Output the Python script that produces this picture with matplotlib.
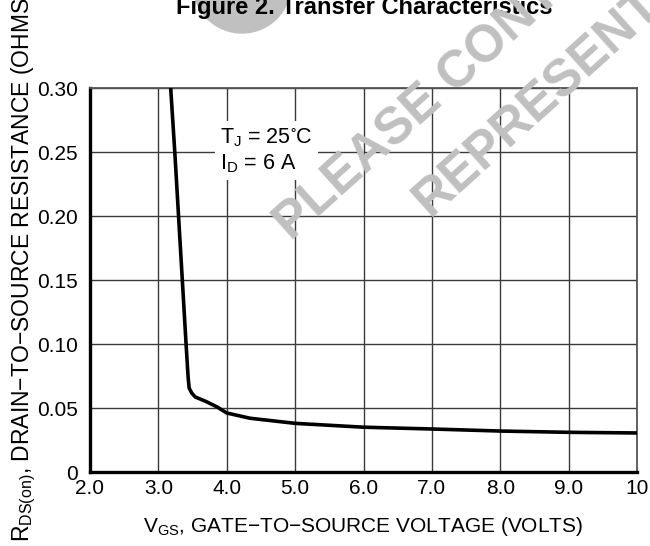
import numpy as np
import matplotlib
matplotlib.use("Agg")
import matplotlib.pyplot as plt
from matplotlib.patches import Ellipse

plt.rcParams['font.family'] = ['Liberation Sans', 'DejaVu Sans']
plt.rcParams['mathtext.fontset'] = 'custom'
plt.rcParams['mathtext.rm'] = 'Liberation Sans'
plt.rcParams['mathtext.it'] = 'Liberation Sans'
plt.rcParams['mathtext.default'] = 'regular'

# curve
vgs = [3.18, 3.24, 3.295, 3.35, 3.405, 3.435, 3.45, 3.49, 3.54, 3.70, 3.86, 4.0, 4.34, 5.0, 6.0, 7.0, 8.0, 9.0, 10.0]
rds = [0.300, 0.250, 0.200, 0.150, 0.100, 0.074, 0.0656, 0.0615, 0.0586, 0.055, 0.0508, 0.0461, 0.042, 0.038, 0.035, 0.0336, 0.032, 0.031, 0.0305]

x_ticks = [2, 3, 4, 5, 6, 7, 8, 9, 10]
x_labels = ['2.0', '3.0', '4.0', '5.0', '6.0', '7.0', '8.0', '9.0', '10']
y_ticks = [0, 0.05, 0.10, 0.15, 0.20, 0.25, 0.30]
y_labels = ['0', '0.05', '0.10', '0.15', '0.20', '0.25', '0.30']

fig = plt.figure(figsize=(6.5, 5.46), dpi=100)
ax = fig.add_axes([90/650, 1-472/546, (637-90)/650, (472-88)/546])

ax.plot(vgs, rds, color='black', lw=2.6, solid_capstyle='butt', zorder=3)

ax.set_xlim(2, 10)
ax.set_ylim(0, 0.30)
ax.set_xticks(x_ticks)
ax.set_xticklabels(x_labels)
ax.set_yticks(y_ticks)
ax.set_yticklabels(y_labels)
ax.tick_params(length=0, labelsize=15)
ax.tick_params(axis='y', pad=9)
ax.tick_params(axis='x', pad=5)
ax.grid(True, color='#3a3a3a', lw=1.0)

for s in ['left', 'bottom']:
    ax.spines[s].set_linewidth(2.4)
    ax.spines[s].set_color('black')
for s in ['top', 'right']:
    ax.spines[s].set_linewidth(1.3)
    ax.spines[s].set_color('#555555')

ax.text(3.9, 0.251, '$T_J$ = 25$^{\\circ}$C\n$I_D$ = 6 A', fontsize=15.5, ha='left', va='center',
        linespacing=1.2,
        bbox=dict(boxstyle='square,pad=0.25', fc='white', ec='none'), zorder=4)

ax.set_xlabel('$V_{GS}$, GATE\u2212TO\u2212SOURCE VOLTAGE (VOLTS)', fontsize=15, labelpad=12)
fig.text(24/650, 280/546, '$R_{DS(on)}$, DRAIN\u2212TO\u2212SOURCE RESISTANCE (OHMS)', fontsize=16.5,
         rotation=90, ha='center', va='center')

# watermark
fig.patches.append(Ellipse((242/650, 1+16/546), 98/650, 98/546, transform=fig.transFigure,
                           color='#c0c0c0', zorder=1))
fig.text(364/650, 1-14/546, 'Figure 2. Transfer Characteristics', fontsize=17, fontweight='bold',
         ha='center', va='baseline', zorder=2)
fig.text(292/650, 1-242/546, 'PLEASE CONTACT YOUR', fontsize=37, fontweight='bold', color='#c0c0c0',
         rotation=42, rotation_mode='anchor', ha='left', va='baseline', zorder=5)
fig.text(430/650, 1-218/546, 'REPRESENTATIVE', fontsize=37, fontweight='bold', color='#c0c0c0',
         rotation=42, rotation_mode='anchor', ha='left', va='baseline', zorder=5)

fig.savefig('out.png', dpi=100)
